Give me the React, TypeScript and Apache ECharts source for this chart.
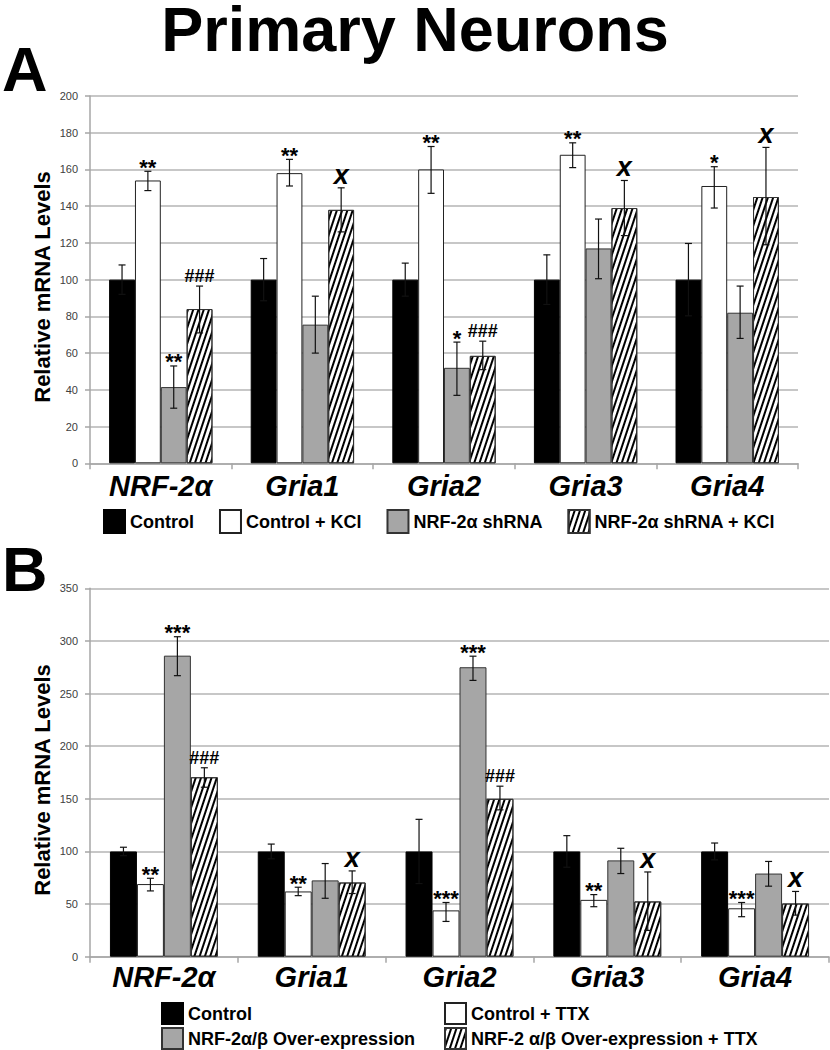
import React, { useEffect, useRef } from 'react';
import * as echarts from 'echarts';

const FONT = "'Liberation Sans', Arial, Helvetica, sans-serif";

const categories = ['NRF-2α', 'Gria1', 'Gria2', 'Gria3', 'Gria4'];

// ---------- Panel A ----------
const aNames = ['Control', 'Control + KCl', 'NRF-2α shRNA', 'NRF-2α shRNA + KCl'];
const aControl = [100, 100, 100, 100, 100];
const aControlHi = [108, 111.5, 109, 113.5, 119.7];
const aControlLo = [92, 88.5, 91, 86.5, 80.3];
const aKcl = [154, 158, 160, 168, 151];
const aKclHi = [159, 165.5, 172.5, 174.5, 161.5];
const aKclLo = [148.5, 151, 147, 161, 139];
const aSh = [41.5, 75.5, 52, 117, 82];
const aShHi = [53, 91, 66, 133, 96.5];
const aShLo = [30, 60, 37, 100.5, 68];
const aShKcl = [84, 138, 58.5, 139, 145];
const aShKclHi = [96.5, 150, 66.5, 154, 172];
const aShKclLo = [71, 126, 51, 124, 119];
const aAnnControl = ['', '', '', '', ''];
const aAnnKcl = ['**', '**', '**', '**', '*'];
const aAnnSh = ['**', '', '*', '', ''];
const aAnnShKcl = ['###', 'x', '###', 'x', 'x'];
const aTicks = { min: 0, max: 200, interval: 20 };

// ---------- Panel B ----------
const bNames = ['Control', 'Control + TTX', 'NRF-2α/β Over-expression', 'NRF-2 α/β Over-expression + TTX'];
const bControl = [100, 100, 100, 100, 100];
const bControlHi = [104, 107, 130.5, 115, 108];
const bControlLo = [96, 93, 69.5, 85, 92];
const bTtx = [69, 62, 44, 54, 46];
const bTtxHi = [74.5, 66, 51.5, 59, 51.5];
const bTtxLo = [62.5, 58, 33.5, 47.5, 38];
const bOe = [286, 72.5, 275, 91.5, 79];
const bOeHi = [304, 88.5, 285.5, 103, 90.5];
const bOeLo = [267, 55.5, 262.5, 79, 67];
const bOeTtx = [170.5, 70.5, 150, 52.5, 50.5];
const bOeTtxHi = [179.5, 81.5, 162, 80.5, 62];
const bOeTtxLo = [161, 60, 139.5, 25, 39.5];
const bAnnControl = ['', '', '', '', ''];
const bAnnTtx = ['**', '**', '***', '**', '***'];
const bAnnOe = ['***', '', '***', '', ''];
const bAnnOeTtx = ['###', 'x', '###', 'x', 'x'];
const bTicks = { min: 0, max: 350, interval: 50 };

const GAP = 0.27;

const hatchDecal = {
  symbol: 'rect',
  symbolSize: 1,
  color: '#000',
  backgroundColor: null,
  dashArrayX: [1, 0],
  dashArrayY: [1.5, 2.5],
  rotation: -1.25,
};

const barStyles = [
  { color: '#000000', borderColor: '#000000', borderWidth: 1 },
  { color: '#ffffff', borderColor: '#222222', borderWidth: 1 },
  { color: '#a6a6a6', borderColor: '#333333', borderWidth: 1 },
  { color: '#ffffff', borderColor: '#333333', borderWidth: 1, decal: hatchDecal },
];

function buildErr(his: number[][], los: number[][], anns: string[][]) {
  const data: number[][] = [];
  const labels: string[] = [];
  for (let s = 0; s < his.length; s++) {
    for (let c = 0; c < categories.length; c++) {
      data.push([c, s, los[s][c], his[s][c]]);
      labels.push(anns[s][c]);
    }
  }
  return { data, labels };
}

function makeRender(labels: string[]) {
  return (params: any, api: any) => {
    const c = api.value(0);
    const s = api.value(1);
    const lo = api.value(2);
    const hi = api.value(3);
    const band = api.size([1, 0])[0];
    const groupW = band * (1 - GAP);
    const barW = groupW / 4;
    const cx = api.coord([c, 0])[0] - groupW / 2 + (s + 0.5) * barW;
    const yLo = api.coord([c, lo])[1];
    const yHi = api.coord([c, hi])[1];
    const cap = 3.5;
    const st = { stroke: '#111', lineWidth: 1.2 };
    const children: any[] = [
      { type: 'line', shape: { x1: cx, y1: yLo, x2: cx, y2: yHi }, style: st },
      { type: 'line', shape: { x1: cx - cap, y1: yHi, x2: cx + cap, y2: yHi }, style: st },
      { type: 'line', shape: { x1: cx - cap, y1: yLo, x2: cx + cap, y2: yLo }, style: st },
    ];
    const t = labels[params.dataIndex];
    if (t) {
      let font = `bold 22px ${FONT}`;
      let y = yHi - 4;
      if (t.startsWith('#')) {
        font = `bold 18px ${FONT}`;
        y = yHi - 10;
      } else if (t === 'x') {
        font = `italic bold 27px ${FONT}`;
        y = yHi - 13;
      }
      children.push({
        type: 'text',
        style: { text: t, x: cx, y, font, fill: '#000', align: 'center', verticalAlign: 'middle' },
      });
    }
    return { type: 'group', children };
  };
}

function panel(idx: number, names: string[], vals: number[][]) {
  return names.map((n, s) => ({
    name: n,
    type: 'bar',
    xAxisIndex: idx,
    yAxisIndex: idx,
    data: vals[s],
    barGap: '0%',
    barCategoryGap: GAP * 100 + '%',
    itemStyle: barStyles[s],
    z: 2,
  }));
}

function xAxisCfg(gridIndex: number, margin: number) {
  return {
    type: 'category',
    gridIndex,
    data: categories,
    axisLine: { show: true, lineStyle: { color: '#a6a6a6', width: 1.5 } },
    axisTick: { show: true, length: 6, interval: 0, lineStyle: { color: '#a6a6a6', width: 1.5 } },
    axisLabel: {
      interval: 0,
      margin,
      fontSize: 29,
      fontWeight: 'bold',
      fontStyle: 'italic',
      fontFamily: FONT,
      color: '#000',
    },
    splitLine: { show: false },
  };
}

function yAxisCfg(gridIndex: number, t: { min: number; max: number; interval: number }) {
  return {
    type: 'value',
    gridIndex,
    min: t.min,
    max: t.max,
    interval: t.interval,
    axisLine: { show: true, lineStyle: { color: '#a6a6a6', width: 1.5 } },
    axisTick: { show: true, length: 5, lineStyle: { color: '#a6a6a6', width: 1.5 } },
    axisLabel: { fontSize: 11, color: '#404040', margin: 12, fontFamily: FONT },
    splitLine: { show: true, lineStyle: { color: '#b4b4b4', width: 1.5 } },
  };
}

const legendText = { fontSize: 18, fontWeight: 'bold', color: '#000', fontFamily: FONT };

function legendCfg(names: string[], left: number, top: number, itemHeight: number, itemGap: number) {
  return {
    left,
    top,
    padding: 0,
    itemWidth: 21,
    itemHeight,
    itemGap,
    icon: 'rect',
    selectedMode: false,
    data: names,
    textStyle: legendText,
  };
}

export default function App() {
  const ref = useRef<HTMLDivElement>(null);
  useEffect(() => {
    if (!ref.current) return;
    const chart = echarts.init(ref.current, null, { renderer: 'svg' });
    const errA = buildErr(
      [aControlHi, aKclHi, aShHi, aShKclHi],
      [aControlLo, aKclLo, aShLo, aShKclLo],
      [aAnnControl, aAnnKcl, aAnnSh, aAnnShKcl]
    );
    const errB = buildErr(
      [bControlHi, bTtxHi, bOeHi, bOeTtxHi],
      [bControlLo, bTtxLo, bOeLo, bOeTtxLo],
      [bAnnControl, bAnnTtx, bAnnOe, bAnnOeTtx]
    );
    const option: any = {
      animation: false,
      backgroundColor: '#ffffff',
      grid: [
        { left: 90, right: 32, top: 96, height: 367.3, outerBoundsMode: 'none', containLabel: false },
        { left: 90, right: 1, top: 588.3, height: 368.4, outerBoundsMode: 'none', containLabel: false },
      ],
      xAxis: [xAxisCfg(0, 8), xAxisCfg(1, 6)],
      yAxis: [yAxisCfg(0, aTicks), yAxisCfg(1, bTicks)],
      legend: [
        legendCfg(aNames, 103, 509, 23, 25),
        legendCfg([bNames[0]], 161, 1002, 21, 0),
        legendCfg([bNames[2]], 161, 1027, 21, 0),
        legendCfg([bNames[1]], 444, 1002, 21, 0),
        legendCfg([bNames[3]], 444, 1027, 21, 0),
      ],
      graphic: [
        {
          type: 'text', x: 415, y: 29, z: 10,
          style: { text: 'Primary Neurons', font: `bold 63px ${FONT}`, lineHeight: 48, fill: '#000', align: 'center', verticalAlign: 'middle' },
        },
        {
          type: 'text', x: 2, y: 69, z: 10,
          style: { text: 'A', font: `bold 63px ${FONT}`, lineHeight: 48, fill: '#000', align: 'left', verticalAlign: 'middle' },
        },
        {
          type: 'text', x: 2, y: 569, z: 10,
          style: { text: 'B', font: `bold 63px ${FONT}`, lineHeight: 48, fill: '#000', align: 'left', verticalAlign: 'middle' },
        },
        {
          type: 'text', x: 42, y: 287, rotation: Math.PI / 2, z: 10,
          style: { text: 'Relative mRNA Levels', font: `bold 22px ${FONT}`, fill: '#000', align: 'center', verticalAlign: 'middle' },
        },
        {
          type: 'text', x: 42, y: 780, rotation: Math.PI / 2, z: 10,
          style: { text: 'Relative mRNA Levels', font: `bold 22px ${FONT}`, fill: '#000', align: 'center', verticalAlign: 'middle' },
        },
      ],
      series: [
        ...panel(0, aNames, [aControl, aKcl, aSh, aShKcl]),
        ...panel(1, bNames, [bControl, bTtx, bOe, bOeTtx]),
        {
          type: 'custom', name: 'errA', xAxisIndex: 0, yAxisIndex: 0, z: 5,
          renderItem: makeRender(errA.labels), data: errA.data, silent: true,
        },
        {
          type: 'custom', name: 'errB', xAxisIndex: 1, yAxisIndex: 1, z: 5,
          renderItem: makeRender(errB.labels), data: errB.data, silent: true,
        },
      ],
    };
    chart.setOption(option);
    return () => chart.dispose();
  }, []);
  return (
    <div
      ref={ref}
      style={{ position: 'fixed', left: 0, top: 0, width: 830, height: 1050, background: '#fff' }}
    />
  );
}
